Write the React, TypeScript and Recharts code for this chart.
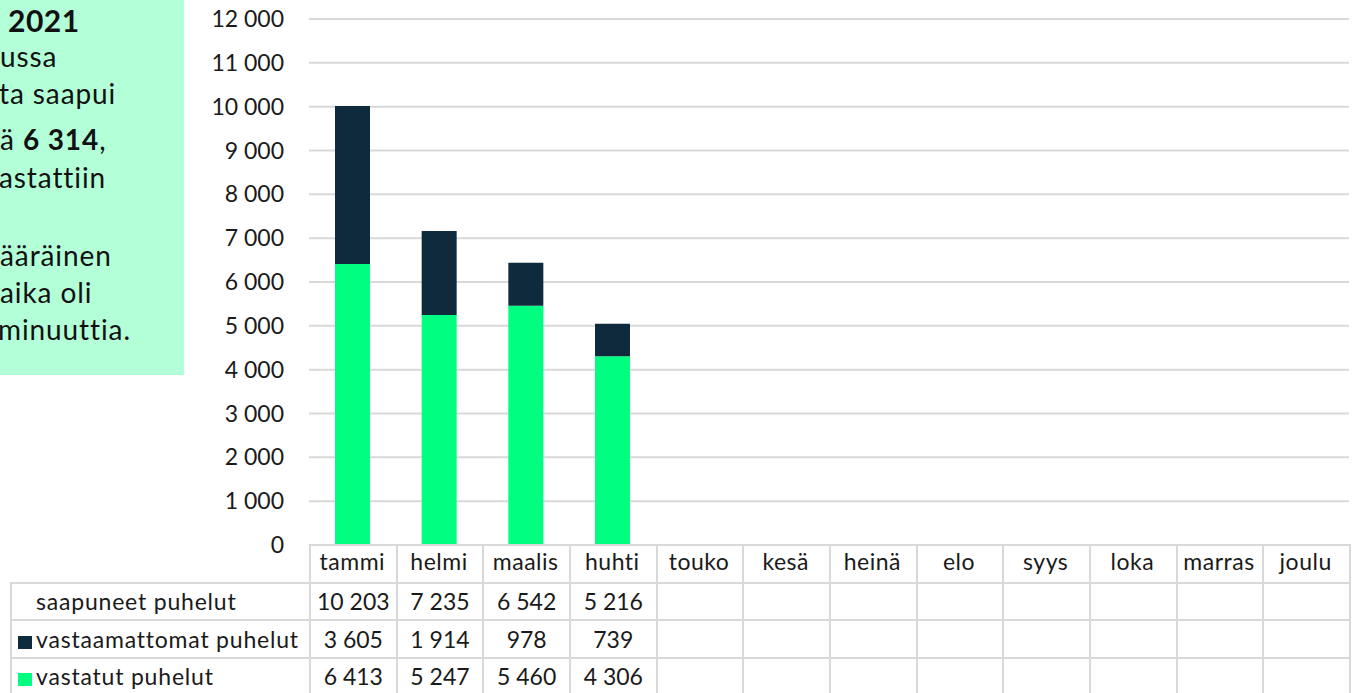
import React from 'react';
import { BarChart, Bar, XAxis, YAxis, CartesianGrid } from 'recharts';

const months = ['tammi', 'helmi', 'maalis', 'huhti', 'touko', 'kesä', 'heinä', 'elo', 'syys', 'loka', 'marras', 'joulu'];
const saapuneet: (number | null)[] = [10203, 7235, 6542, 5216, null, null, null, null, null, null, null, null];
const vastaamattomat: (number | null)[] = [3605, 1914, 978, 739, null, null, null, null, null, null, null, null];
const vastatut: (number | null)[] = [6413, 5247, 5460, 4306, null, null, null, null, null, null, null, null];
const yTicks = [0, 1000, 2000, 3000, 4000, 5000, 6000, 7000, 8000, 9000, 10000, 11000, 12000];

const GREEN = '#00ff80';
const NAVY = '#0f2a3d';
const LINE = '#d9d9d9';
const TEXT = '#1a1a1a';
const FONT = 'Lato, "Open Sans", sans-serif';

const fmt = (v: number | null) => (v == null ? '' : String(v).replace(/\B(?=(\d{3})+(?!\d))/g, ' '));

const data = months.map((m, i) => ({
  month: m,
  vastatut: vastatut[i],
  vastaamattomat: vastaamattomat[i],
}));

const rows = [
  { label: 'saapuneet puhelut', values: saapuneet, color: null as string | null },
  { label: 'vastaamattomat puhelut', values: vastaamattomat, color: NAVY },
  { label: 'vastatut puhelut', values: vastatut, color: GREEN },
];

// text box on the left, its lines cut off by the page edge
const boxLines: { top: number; left: number; content: React.ReactNode; big?: boolean }[] = [
  { top: 2, left: 8, content: <b>2021</b>, big: true },
  { top: 39, left: 0, content: 'ussa' },
  { top: 76, left: -1, content: 'ta saapui' },
  { top: 122, left: 0, content: <>ä <b>6 314</b>,</> },
  { top: 160, left: -1, content: 'astattiin' },
  { top: 238, left: 0, content: 'ääräinen' },
  { top: 275, left: 0, content: 'aika oli' },
  { top: 312, left: -2, content: 'minuuttia.' },
];

const cell: React.CSSProperties = {
  border: `2px solid ${LINE}`,
  height: 35.5,
  padding: 0,
  textAlign: 'center',
  fontSize: 23,
  color: TEXT,
};

export default function App() {
  const colW = 1040 / 12;
  return (
    <div style={{ position: 'fixed', left: 0, top: 0, width: 1359, height: 693, background: '#fff', overflow: 'hidden', fontFamily: FONT }}>
      <div style={{ position: 'absolute', left: 0, top: 0, width: 184, height: 375, background: '#b3ffd8', overflow: 'hidden' }}>
        {boxLines.map((l, i) => (
          <div
            key={i}
            style={{
              position: 'absolute',
              left: l.left,
              top: l.top,
              fontSize: l.big ? 30 : 28,
              letterSpacing: l.big ? 0.5 : 0.9,
              color: '#111',
              whiteSpace: 'nowrap',
            }}
          >
            {l.content}
          </div>
        ))}
      </div>

      <div style={{ position: 'absolute', left: 0, top: 0 }}>
        <BarChart width={1359} height={582} data={data} margin={{ top: 19, right: 10, left: 0, bottom: 0 }} barCategoryGap="30%">
          <CartesianGrid vertical={false} stroke={LINE} strokeWidth={2} />
          <XAxis
            dataKey="month"
            height={37}
            axisLine={false}
            tickLine={false}
            tickSize={0}
            tickMargin={9}
            interval={0}
            tick={{ fontSize: 23, fill: TEXT, fontFamily: FONT, letterSpacing: 0.5 }}
          />
          <YAxis
            width={309}
            domain={[0, 12000]}
            ticks={yTicks}
            interval={0}
            axisLine={false}
            tickLine={false}
            tickSize={0}
            tickMargin={25}
            tickFormatter={(v: number) => fmt(v)}
            tick={{ fontSize: 23, fill: TEXT, fontFamily: FONT }}
          />
          <Bar dataKey="vastatut" stackId="a" fill={GREEN} isAnimationActive={false} />
          <Bar dataKey="vastaamattomat" stackId="a" fill={NAVY} isAnimationActive={false} />
        </BarChart>
      </div>

      <table
        style={{
          position: 'absolute',
          left: 10,
          top: 544,
          borderCollapse: 'collapse',
          tableLayout: 'fixed',
          width: 299 + 1040,
          fontFamily: FONT,
        }}
      >
        <colgroup>
          <col style={{ width: 299 }} />
          {months.map((m) => (
            <col key={m} style={{ width: colW }} />
          ))}
        </colgroup>
        <tbody>
          <tr>
            <td style={{ ...cell, borderTop: 'hidden', borderLeft: 'hidden' }} />
            {months.map((m) => (
              <td key={m} style={cell} />
            ))}
          </tr>
          {rows.map((r) => (
            <tr key={r.label}>
              <td style={{ ...cell, textAlign: 'left', whiteSpace: 'nowrap', letterSpacing: 0.8 }}>
                <span
                  style={{
                    display: 'inline-block',
                    width: 14,
                    height: 13,
                    marginLeft: 6,
                    marginRight: 4,
                    verticalAlign: '-1px',
                    background: r.color ?? 'transparent',
                  }}
                />
                {r.label}
              </td>
              {r.values.map((v, i) => (
                <td key={i} style={cell}>
                  {fmt(v)}
                </td>
              ))}
            </tr>
          ))}
        </tbody>
      </table>
    </div>
  );
}
